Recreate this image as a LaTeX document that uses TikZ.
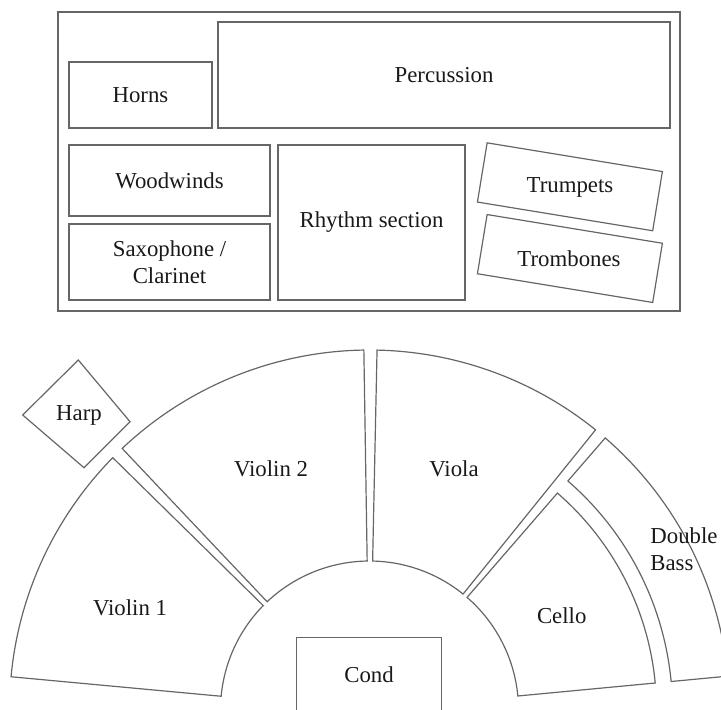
\documentclass[tikz,border=0pt]{standalone}
\usepackage{fontspec}
\setmainfont{Liberation Serif}

\begin{document}
\begin{tikzpicture}[
  x=0.5pt, y=0.5pt,
  every node/.style={font=\fontsize{11.4}{13.2}\selectfont, text=black!90},
  box/.style={rectangle, draw=black!60, line width=0.6pt, inner sep=0pt,
              align=center},
  seat/.style={draw=black!60, line width=0.6pt},
  lbl/.style={align=center, inner sep=0pt}
]
\clip (0,0) rectangle (721,709);

% band on stage
\draw[seat] (58,398) rectangle (680,697);
\node[box, minimum width=71.5pt, minimum height=33pt] (horns) at (140.5,614) {Horns};
\node[box, minimum width=226pt, minimum height=53pt] (perc) at (444,634) {Percussion};
\node[box, minimum width=100.5pt, minimum height=35.5pt] (wood) at (169.5,528.5) {Woodwinds};
\node[box, minimum width=100.5pt, minimum height=38pt] (sax) at (169.5,447) {Saxophone /\\Clarinet};
\node[box, minimum width=93.5pt, minimum height=77.5pt] (rhythm) at (371.5,486.5) {Rhythm section};
\node[box, rotate=-9.3, minimum width=88.8pt, minimum height=30pt] (trpbox) at (569.9,522.2) {};
\node[lbl] (trp) at (570,521.7) {Trumpets};
\node[box, rotate=-9.3, minimum width=88.8pt, minimum height=30pt] (trbbox) at (569.9,450.5) {};
\node[lbl] (trb) at (569,450) {Trombones};

% strings
\coordinate (C) at (369.5,-1);
\foreach \a/\b/\ri/\ro in {135.5/174.7/149/360, 90.9/133.4/149/360,
                          51.1/88.8/149/360, 5.4/49.1/149/287, 5.4/49.1/303/360}
  \draw[seat, shift={(C)}] (\a:\ri) arc[start angle=\a, end angle=\b, radius=\ri]
    -- (\b:\ro) arc[start angle=\b, end angle=\a, radius=\ro] -- cycle;

\node[lbl] (vln1) at (130,101.3) {Violin 1};
\node[lbl] (vln2) at (271,240.7) {Violin 2};
\node[lbl] (vla) at (454,240.7) {Viola};
\node[lbl] (vc) at (561.7,93.3) {Cello};
\node[lbl, align=left, anchor=west] (cb) at (650,159.7) {Double\\Bass};

% harp and conductor
\draw[seat] (22.7,294) -- (78.3,349) -- (130,287.3) -- (84,241.3) -- cycle;
\node[lbl] (harp) at (79,294) {Harp};
\node[box, minimum width=72.15pt, minimum height=37.3pt] (cond) at (369,34) {Cond};

\end{tikzpicture}
\end{document}
